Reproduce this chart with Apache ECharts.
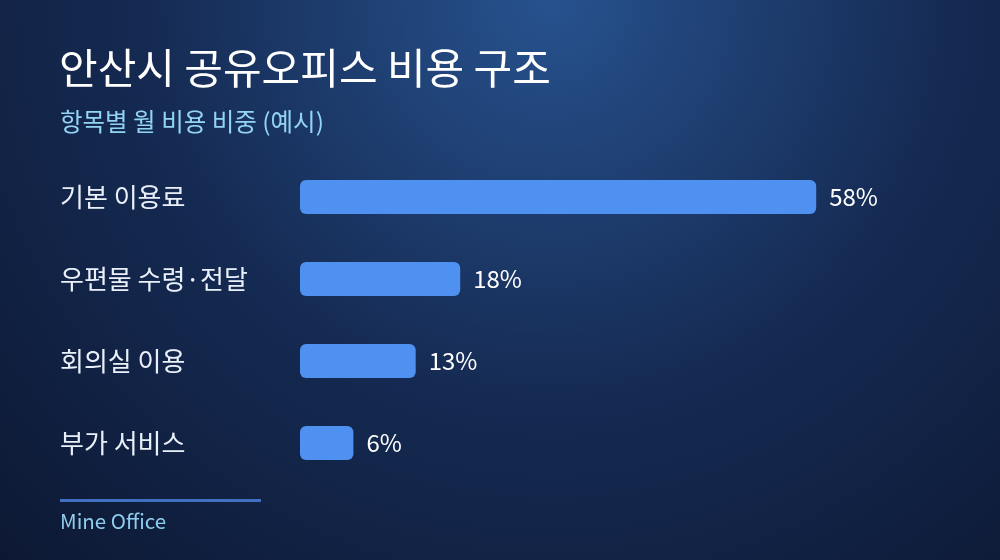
<!DOCTYPE html>
<html>
<head>
<meta charset="utf-8">
<script src="https://cdn.jsdelivr.net/npm/echarts@6/dist/echarts.min.js"></script>
<style>
    html, body { margin: 0; padding: 0; }
    #chartDiv { width: 1000px; height: 560px; }
</style>
</head>
<body>
<div id="chartDiv"></div>
<script>
    // 항목별 월 비용 비중 (예시)
    var categories = ['기본 이용료', '우편물 수령·전달', '회의실 이용', '부가 서비스'];
    var shares = [58, 18, 13, 6];

    var font = "'Noto Sans CJK KR', 'Noto Sans', sans-serif";
    var chart = echarts.init(document.getElementById('chartDiv'));

    chart.setOption({
        backgroundColor: {
            type: 'radial', x: 0.55, y: 0, r: 1.45,
            colorStops: [
                {offset: 0, color: '#27528e'},
                {offset: 0.5, color: '#152a52'},
                {offset: 1, color: '#0c1731'}
            ]
        },
        title: [{
            text: '안산시 공유오피스 비용 구조',
            left: 54, top: 42,
            textStyle: {color: '#ffffff', fontSize: 42, fontWeight: 400, fontFamily: font}
        }, {
            text: '항목별 월 비용 비중 (예시)',
            left: 55, top: 104,
            textStyle: {color: '#93d4f4', fontSize: 24.5, fontWeight: 400, fontFamily: font}
        }, {
            text: 'Mine Office',
            left: 55, top: 506,
            textStyle: {color: '#8fcdee', fontSize: 20.5, fontWeight: 400, fontFamily: font}
        }],
        graphic: [{
            type: 'rect',
            shape: {x: 60, y: 499, width: 201, height: 3},
            style: {fill: '#4170c2'}
        }],
        grid: {left: 300, right: 77, top: 156, height: 328},
        xAxis: {
            type: 'value', min: 0, max: 70,
            show: false
        },
        yAxis: {
            type: 'category',
            data: categories,
            inverse: true,
            axisLine: {show: false},
            axisTick: {show: false},
            axisLabel: {
                align: 'left', margin: 240,
                color: '#eaf0fa', fontSize: 26, fontFamily: font
            }
        },
        series: [{
            type: 'bar',
            data: shares,
            barWidth: 34,
            itemStyle: {color: '#4f91f0', borderRadius: 6},
            label: {
                show: true, position: 'right', distance: 13,
                formatter: '{c}%',
                color: '#ffffff', fontSize: 24, fontFamily: font
            }
        }]
    });
</script>
</body>
</html>
